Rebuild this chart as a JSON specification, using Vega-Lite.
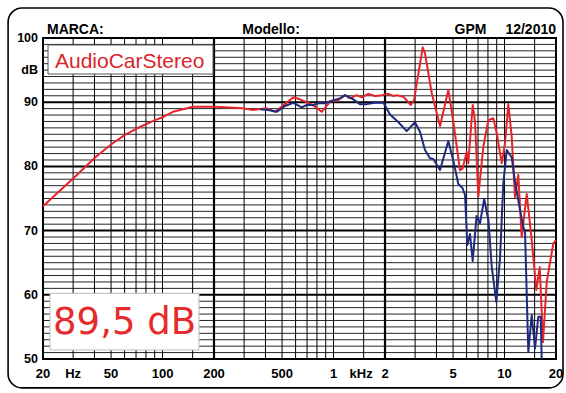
{
  "$schema": "https://vega.github.io/schema/vega-lite/v6.json",
  "width": 513,
  "height": 321,
  "autosize": {"type": "none"},
  "padding": {"left": 43, "top": 38, "right": 10, "bottom": 34},
  "background": "white",
  "config": {
    "view": {"stroke": "black", "strokeWidth": 2}
  },
  "datasets": {
    "vminor": [
      {"f": 30}, {"f": 40}, {"f": 50}, {"f": 60}, {"f": 70}, {"f": 80}, {"f": 90}, {"f": 100}, {"f": 150},
      {"f": 300}, {"f": 400}, {"f": 500}, {"f": 600}, {"f": 700}, {"f": 800}, {"f": 900}, {"f": 1000}, {"f": 1500},
      {"f": 3000}, {"f": 4000}, {"f": 5000}, {"f": 6000}, {"f": 7000}, {"f": 8000}, {"f": 9000}, {"f": 10000}, {"f": 15000}
    ],
    "vmajor": [{"f": 200}, {"f": 2000}],
    "hminor": [
      {"db": 51}, {"db": 52}, {"db": 53}, {"db": 54}, {"db": 55}, {"db": 56}, {"db": 57}, {"db": 58}, {"db": 59},
      {"db": 61}, {"db": 62}, {"db": 63}, {"db": 64}, {"db": 65}, {"db": 66}, {"db": 67}, {"db": 68}, {"db": 69},
      {"db": 71}, {"db": 72}, {"db": 73}, {"db": 74}, {"db": 75}, {"db": 76}, {"db": 77}, {"db": 78}, {"db": 79},
      {"db": 81}, {"db": 82}, {"db": 83}, {"db": 84}, {"db": 85}, {"db": 86}, {"db": 87}, {"db": 88}, {"db": 89},
      {"db": 91}, {"db": 92}, {"db": 93}, {"db": 94}, {"db": 95}, {"db": 96}, {"db": 97}, {"db": 98}, {"db": 99}
    ],
    "hmajor": [{"db": 60}, {"db": 70}, {"db": 80}, {"db": 90}],
    "xlab": [
      {"f": 20, "t": "20"}, {"f": 30, "t": "Hz"}, {"f": 50, "t": "50"}, {"f": 100, "t": "100"},
      {"f": 200, "t": "200"}, {"f": 500, "t": "500"}, {"f": 1000, "t": "1"}, {"f": 1450, "t": "kHz"},
      {"f": 2000, "t": "2"}, {"f": 5000, "t": "5"}, {"f": 10000, "t": "10"}, {"f": 20000, "t": "20"}
    ],
    "ylab": [
      {"db": 50, "t": "50"}, {"db": 60, "t": "60"}, {"db": 70, "t": "70"}, {"db": 80, "t": "80"},
      {"db": 90, "t": "90"}, {"db": 95, "t": "dB"}, {"db": 100, "t": "100"}
    ],
    "red": [
      {"f": 20, "db": 73.8}, {"f": 30.1, "db": 78.15}, {"f": 40.8, "db": 81.5}, {"f": 51.1, "db": 83.6},
      {"f": 60.3, "db": 84.9}, {"f": 70.6, "db": 85.9}, {"f": 90.4, "db": 87.2}, {"f": 101, "db": 87.7},
      {"f": 115, "db": 88.5}, {"f": 151, "db": 89.3}, {"f": 203, "db": 89.3}, {"f": 295, "db": 89.05},
      {"f": 338, "db": 88.8}, {"f": 407, "db": 89.05}, {"f": 455, "db": 88.5}, {"f": 520, "db": 89.7},
      {"f": 582, "db": 90.76}, {"f": 637, "db": 90.45}, {"f": 712, "db": 89.9}, {"f": 780, "db": 89.3},
      {"f": 853, "db": 88.5}, {"f": 954, "db": 90.1}, {"f": 1067, "db": 90.34}, {"f": 1167, "db": 91.1},
      {"f": 1249, "db": 90.6}, {"f": 1367, "db": 91.1}, {"f": 1462, "db": 90.76}, {"f": 1598, "db": 91.3},
      {"f": 1749, "db": 90.97}, {"f": 1914, "db": 91.1}, {"f": 2092, "db": 91.3}, {"f": 2237, "db": 90.97},
      {"f": 2342, "db": 91.1}, {"f": 2560, "db": 90.86}, {"f": 2829, "db": 89.56}, {"f": 2957, "db": 90.34},
      {"f": 3324, "db": 98.55}, {"f": 3429, "db": 97.6}, {"f": 3753, "db": 91.4}, {"f": 4196, "db": 86.3},
      {"f": 4692, "db": 91.9}, {"f": 5018, "db": 86.96}, {"f": 5492, "db": 79.4}, {"f": 5695, "db": 79.7},
      {"f": 6010, "db": 82.3}, {"f": 6142, "db": 80.5}, {"f": 6516, "db": 89.56}, {"f": 6721, "db": 87.0},
      {"f": 7027, "db": 75.3}, {"f": 7516, "db": 83.07}, {"f": 8040, "db": 87.2}, {"f": 8600, "db": 87.5},
      {"f": 9003, "db": 85.16}, {"f": 9630, "db": 80.5}, {"f": 10067, "db": 83.6}, {"f": 10525, "db": 89.7},
      {"f": 11019, "db": 84.6}, {"f": 11516, "db": 75.2}, {"f": 12038, "db": 78.7}, {"f": 12604, "db": 69.0},
      {"f": 13487, "db": 75.7}, {"f": 14423, "db": 68.5}, {"f": 15344, "db": 60.75}, {"f": 16064, "db": 64.3},
      {"f": 16794, "db": 52.65}, {"f": 17650, "db": 62.0}, {"f": 19290, "db": 68.0}, {"f": 20000, "db": 68.5}
    ],
    "blue": [
      {"f": 372, "db": 88.9}, {"f": 415, "db": 88.8}, {"f": 465, "db": 88.5}, {"f": 520, "db": 89.4},
      {"f": 582, "db": 89.9}, {"f": 652, "db": 89.2}, {"f": 697, "db": 89.56}, {"f": 762, "db": 89.56},
      {"f": 815, "db": 89.83}, {"f": 892, "db": 89.83}, {"f": 976, "db": 90.23}, {"f": 1091, "db": 90.6},
      {"f": 1167, "db": 91.1}, {"f": 1278, "db": 90.6}, {"f": 1428, "db": 89.7}, {"f": 1564, "db": 89.7},
      {"f": 1749, "db": 89.9}, {"f": 1960, "db": 89.9}, {"f": 2140, "db": 88.1}, {"f": 2380, "db": 86.96},
      {"f": 2679, "db": 85.5}, {"f": 2995, "db": 86.87}, {"f": 3204, "db": 85.4}, {"f": 3427, "db": 82.55},
      {"f": 3666, "db": 81.26}, {"f": 3832, "db": 81.15}, {"f": 4196, "db": 79.44}, {"f": 4692, "db": 83.96},
      {"f": 5018, "db": 80.9}, {"f": 5368, "db": 77.26}, {"f": 5681, "db": 76.64}, {"f": 5875, "db": 75.55},
      {"f": 6060, "db": 67.76}, {"f": 6284, "db": 69.47}, {"f": 6516, "db": 65.26}, {"f": 6859, "db": 72.27},
      {"f": 7190, "db": 71.14}, {"f": 7606, "db": 74.92}, {"f": 8063, "db": 71.5}, {"f": 8415, "db": 64.38},
      {"f": 8953, "db": 58.88}, {"f": 9412, "db": 65.73}, {"f": 9841, "db": 77.37}, {"f": 10300, "db": 82.55},
      {"f": 11019, "db": 81.39}, {"f": 11516, "db": 77.62}, {"f": 12318, "db": 73.2}, {"f": 12880, "db": 70.6},
      {"f": 13178, "db": 69.83}, {"f": 13776, "db": 51.1}, {"f": 14423, "db": 56.85}, {"f": 15078, "db": 51.67},
      {"f": 15763, "db": 56.6}, {"f": 16280, "db": 56.6}, {"f": 16500, "db": 50.0}
    ]
  },
  "layer": [
    {
      "data": {"name": "hminor"},
      "mark": {"type": "rule", "color": "#262626", "strokeWidth": 1},
      "encoding": {
        "y": {"field": "db", "type": "quantitative", "scale": {"domain": [50, 100], "nice": false, "zero": false}, "axis": null}
      }
    },
    {
      "data": {"name": "hmajor"},
      "mark": {"type": "rule", "color": "black", "strokeWidth": 2},
      "encoding": {"y": {"field": "db", "type": "quantitative", "axis": null}}
    },
    {
      "data": {"name": "vminor"},
      "mark": {"type": "rule", "color": "black", "strokeWidth": 1},
      "encoding": {
        "x": {"field": "f", "type": "quantitative", "scale": {"type": "log", "domain": [20, 20000], "nice": false}, "axis": null}
      }
    },
    {
      "data": {"name": "vmajor"},
      "mark": {"type": "rule", "color": "black", "strokeWidth": 2.2},
      "encoding": {"x": {"field": "f", "type": "quantitative", "axis": null}}
    },
    {
      "data": {"values": [{}]},
      "mark": {"type": "rect", "fillOpacity": 0, "stroke": "black", "strokeWidth": 1.6, "cornerRadius": 14},
      "encoding": {
        "x": {"datum": 12.5, "type": "quantitative", "axis": null},
        "x2": {"datum": 21980},
        "y": {"datum": 104.67, "type": "quantitative", "axis": null},
        "y2": {"datum": 45.5}
      }
    },
    {
      "data": {"name": "red"},
      "mark": {"type": "line", "color": "#e5242a", "strokeWidth": 2, "strokeJoin": "round"},
      "encoding": {
        "x": {"field": "f", "type": "quantitative", "axis": null},
        "y": {"field": "db", "type": "quantitative", "axis": null}
      }
    },
    {
      "data": {"name": "blue"},
      "mark": {"type": "line", "color": "#1f2a7e", "strokeWidth": 2, "strokeJoin": "round"},
      "encoding": {
        "x": {"field": "f", "type": "quantitative", "axis": null},
        "y": {"field": "db", "type": "quantitative", "axis": null}
      }
    },
    {
      "data": {"name": "xlab"},
      "mark": {"type": "text", "align": "center", "baseline": "middle", "font": "Liberation Sans", "fontWeight": "bold", "fontSize": 13, "color": "black"},
      "encoding": {
        "x": {"field": "f", "type": "quantitative", "axis": null},
        "y": {"datum": 47.66, "type": "quantitative", "axis": null},
        "text": {"field": "t"}
      }
    },
    {
      "data": {"name": "ylab"},
      "mark": {"type": "text", "align": "right", "baseline": "middle", "font": "Liberation Sans", "fontWeight": "bold", "fontSize": 12.5, "color": "black"},
      "encoding": {
        "x": {"datum": 18.7, "type": "quantitative", "axis": null},
        "y": {"field": "db", "type": "quantitative", "axis": null},
        "text": {"field": "t"}
      }
    },
    {
      "data": {"values": [{}]},
      "mark": {"type": "rect", "fill": "white", "stroke": "#555555", "strokeWidth": 1},
      "encoding": {
        "x": {"datum": 21.4, "type": "quantitative", "axis": null},
        "x2": {"datum": 197.4},
        "y": {"datum": 98.91, "type": "quantitative", "axis": null},
        "y2": {"datum": 94.39}
      }
    },
    {
      "data": {"values": [{}]},
      "mark": {"type": "text", "align": "left", "baseline": "alphabetic", "font": "Liberation Sans", "fontSize": 21, "color": "#d9262b"},
      "encoding": {
        "x": {"datum": 23.5, "type": "quantitative", "axis": null},
        "y": {"datum": 95.33, "type": "quantitative", "axis": null},
        "text": {"value": "AudioCarStereo"}
      }
    },
    {
      "data": {"values": [{}]},
      "mark": {"type": "rect", "fill": "white", "stroke": "#bbbbbb", "strokeWidth": 1},
      "encoding": {
        "x": {"datum": 21.98, "type": "quantitative", "axis": null},
        "x2": {"datum": 163.4},
        "y": {"datum": 60.23, "type": "quantitative", "axis": null},
        "y2": {"datum": 51.4}
      }
    },
    {
      "data": {"values": [{}]},
      "mark": {"type": "text", "align": "left", "baseline": "alphabetic", "font": "DejaVu Sans", "fontSize": 37, "color": "#e52b2b"},
      "encoding": {
        "x": {"datum": 22.9, "type": "quantitative", "axis": null},
        "y": {"datum": 53.89, "type": "quantitative", "axis": null},
        "text": {"value": "89,5 dB"}
      }
    },
    {
      "data": {"values": [{}]},
      "mark": {"type": "text", "align": "left", "baseline": "alphabetic", "font": "Liberation Sans", "fontWeight": "bold", "fontSize": 14, "color": "black"},
      "encoding": {
        "x": {"datum": 21.1, "type": "quantitative", "axis": null},
        "y": {"datum": 100.62, "type": "quantitative", "axis": null},
        "text": {"value": "MARCA:"}
      }
    },
    {
      "data": {"values": [{}]},
      "mark": {"type": "text", "align": "center", "baseline": "alphabetic", "font": "Liberation Sans", "fontWeight": "bold", "fontSize": 14, "color": "black"},
      "encoding": {
        "x": {"datum": 431, "type": "quantitative", "axis": null},
        "y": {"datum": 100.62, "type": "quantitative", "axis": null},
        "text": {"value": "Modello:"}
      }
    },
    {
      "data": {"values": [{}]},
      "mark": {"type": "text", "align": "center", "baseline": "alphabetic", "font": "Liberation Sans", "fontWeight": "bold", "fontSize": 14, "color": "black"},
      "encoding": {
        "x": {"datum": 6324, "type": "quantitative", "axis": null},
        "y": {"datum": 100.62, "type": "quantitative", "axis": null},
        "text": {"value": "GPM"}
      }
    },
    {
      "data": {"values": [{}]},
      "mark": {"type": "text", "align": "right", "baseline": "alphabetic", "font": "Liberation Sans", "fontWeight": "bold", "fontSize": 14, "color": "black"},
      "encoding": {
        "x": {"datum": 20000, "type": "quantitative", "axis": null},
        "y": {"datum": 100.62, "type": "quantitative", "axis": null},
        "text": {"value": "12/2010"}
      }
    }
  ]
}
